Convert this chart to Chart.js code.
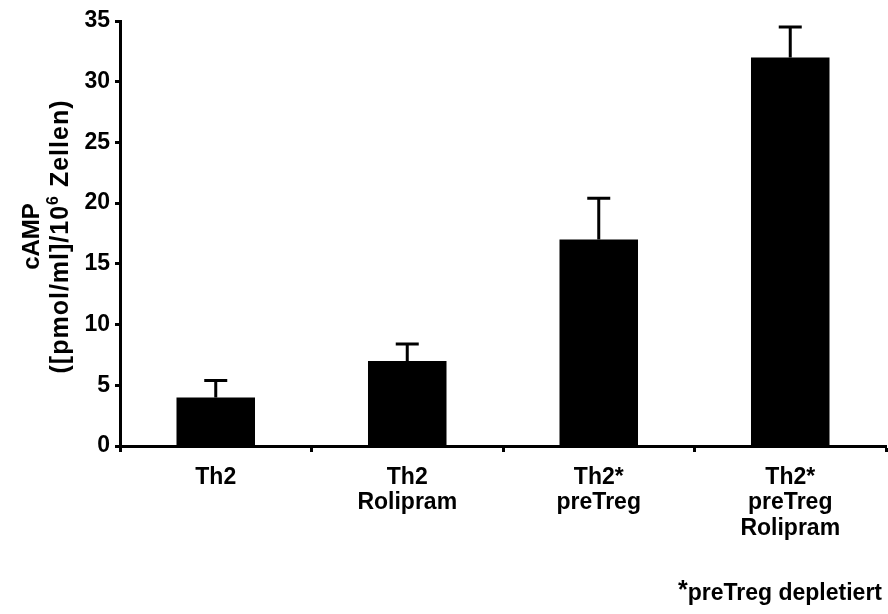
<!DOCTYPE html>
<html>
<head>
<meta charset="utf-8">
<script src="https://cdn.jsdelivr.net/npm/chart.js@4.4.0/dist/chart.umd.min.js"></script>
<style>
  html, body { margin: 0; padding: 0; background: #fff; }
  #wrap { width: 888px; height: 614px; position: relative; }
</style>
</head>
<body>
<div id="wrap"><canvas id="camp"></canvas></div>
<script>
// data
const categories = [['Th2'], ['Th2', 'Rolipram'], ['Th2*', 'preTreg'], ['Th2*', 'preTreg', 'Rolipram']];
const campValues = [4.0, 7.0, 17.0, 32.0];
const campErrors = [1.4, 1.4, 3.4, 2.5];
const yTicks = [0, 5, 10, 15, 20, 25, 30, 35];
const yTitle1 = 'cAMP';
const yTitle2 = ['([pmol/ml]/10', '6', ' Zellen)']; // middle part is superscript
const footnote = '*preTreg depletiert';

const FONT = "'Liberation Sans', Arial, sans-serif";

// error bars (upper half only, like the original)
const errorBars = {
    id: 'errorBars',
    afterDatasetsDraw(chart) {
        const ctx = chart.ctx;
        const meta = chart.getDatasetMeta(0);
        const y = chart.scales.y;
        ctx.save();
        ctx.strokeStyle = '#000';
        ctx.lineWidth = 3;
        meta.data.forEach((bar, i) => {
            const top = y.getPixelForValue(campValues[i] + campErrors[i]);
            const base = y.getPixelForValue(campValues[i]);
            ctx.beginPath();
            ctx.moveTo(bar.x, base);
            ctx.lineTo(bar.x, top);
            ctx.moveTo(bar.x - 11.5, top);
            ctx.lineTo(bar.x + 11.5, top);
            ctx.stroke();
        });
        ctx.restore();
    }
};

// rotated y title with a real superscript, plus the footnote
const extraText = {
    id: 'extraText',
    afterDraw(chart) {
        const ctx = chart.ctx;
        const area = chart.chartArea;
        const cy = (area.top + area.bottom) / 2 + 3;
        ctx.save();
        ctx.fillStyle = '#000';
        ctx.textBaseline = 'alphabetic';

        ctx.save();
        ctx.translate(0, cy);
        ctx.rotate(-Math.PI / 2);
        ctx.textAlign = 'center';
        ctx.font = 'bold 24px ' + FONT;
        ctx.fillText(yTitle1, 0, 39);

        ctx.textAlign = 'left';
        if ('letterSpacing' in ctx) ctx.letterSpacing = '1px';
        const big = 'bold 25px ' + FONT, small = 'bold 16px ' + FONT;
        ctx.font = big;
        const w0 = ctx.measureText(yTitle2[0]).width;
        const w2 = ctx.measureText(yTitle2[2]).width;
        ctx.font = small;
        const w1 = ctx.measureText(yTitle2[1]).width;
        let x = -(w0 + w1 + w2) / 2;
        ctx.font = big;
        ctx.fillText(yTitle2[0], x, 68);
        x += w0;
        ctx.font = small;
        ctx.fillText(yTitle2[1], x, 58);
        x += w1;
        ctx.font = big;
        ctx.fillText(yTitle2[2], x, 68);
        ctx.restore();

        ctx.textAlign = 'right';
        ctx.font = 'bold 23px ' + FONT;
        ctx.fillText(footnote.slice(1), 882, 600);
        const w = ctx.measureText(footnote.slice(1)).width;
        ctx.font = 'bold 25px ' + FONT;
        ctx.fillText('*', 882 - w, 598);
        ctx.restore();
    }
};

new Chart(document.getElementById('camp').getContext('2d'), {
    type: 'bar',
    data: {
        labels: categories,
        datasets: [{
            data: campValues,
            backgroundColor: '#000',
            borderWidth: 0,
            barPercentage: 0.41,
            categoryPercentage: 1.0
        }]
    },
    options: {
        responsive: true,
        maintainAspectRatio: false,
        animation: false,
        layout: { padding: { top: 21, right: 2, left: 0, bottom: 0 } },
        plugins: {
            legend: { display: false },
            tooltip: { enabled: false }
        },
        scales: {
            x: {
                afterFit: (s) => { s.height = 168; },
                grid: {
                    offset: true,
                    drawOnChartArea: false,
                    drawTicks: true,
                    tickLength: 6,
                    tickWidth: 3,
                    color: '#000'
                },
                border: { display: true, color: '#000', width: 3 },
                ticks: {
                    color: '#000',
                    padding: 13,
                    maxRotation: 0,
                    autoSkip: false,
                    font: { family: FONT, size: 23, weight: 'bold', lineHeight: 1.1 }
                }
            },
            y: {
                min: 0,
                max: 35,
                afterFit: (s) => { s.width = 120; },
                afterBuildTicks: (s) => { s.ticks = yTicks.map(v => ({ value: v })); },
                grid: {
                    drawOnChartArea: false,
                    drawTicks: true,
                    tickLength: 5,
                    tickWidth: 3,
                    color: '#000'
                },
                border: { display: true, color: '#000', width: 3 },
                ticks: {
                    color: '#000',
                    padding: 5,
                    font: { family: FONT, size: 23, weight: 'bold' }
                }
            }
        }
    },
    plugins: [errorBars, extraText]
});
</script>
</body>
</html>
